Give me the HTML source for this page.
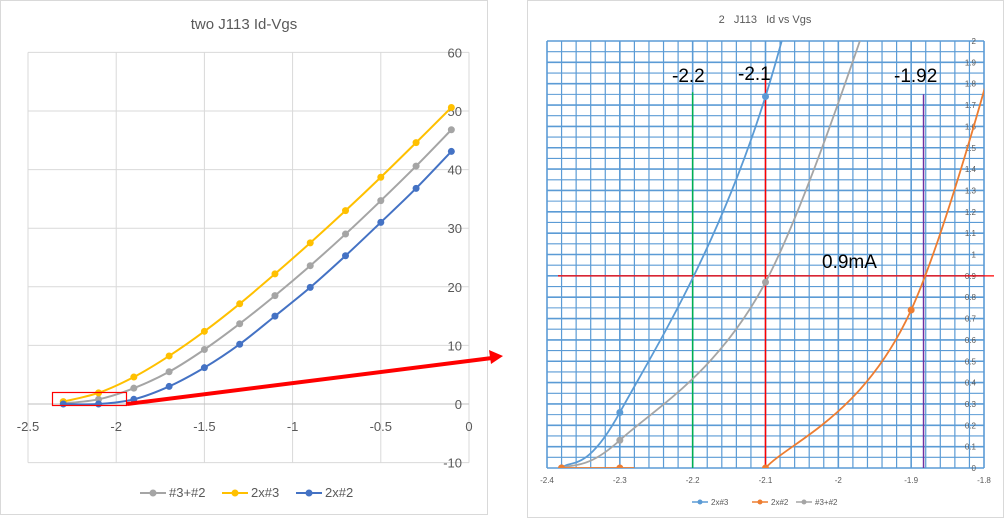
<!DOCTYPE html>
<html><head><meta charset="utf-8"><style>
body{margin:0;background:#fff;width:1004px;height:519px;overflow:hidden;font-family:"Liberation Sans",sans-serif}
svg{position:absolute;left:0;top:0}
</style></head><body>
<svg width="1004" height="519" id="svg">
<rect x="0.5" y="0.5" width="487" height="514" fill="#fff" stroke="#d9d9d9"/>
<rect x="527.5" y="0.5" width="476" height="517" fill="#fff" stroke="#d9d9d9"/>
<text x="244" y="29" font-size="15" fill="#595959" text-anchor="middle">two J113 Id-Vgs</text>
<text x="765" y="23" font-size="11" fill="#595959" text-anchor="middle" xml:space="preserve">2   J113   Id vs Vgs</text>
<g id="L"></g><g id="R"></g>
</svg>
<script>
// ---- left chart data ----
const lx=[-2.3,-2.1,-1.9,-1.7,-1.5,-1.3,-1.1,-0.9,-0.7,-0.5,-0.3,-0.1];
const lYellow=[0.4,1.9,4.6,8.2,12.4,17.1,22.2,27.5,33,38.7,44.6,50.6];
const lGrey=[0.1,0.8,2.7,5.5,9.3,13.7,18.5,23.6,29,34.7,40.6,46.8];
const lBlue=[0,0,0.8,3,6.2,10.2,15,19.9,25.3,31,36.8,43.1];
const lXTicks=[-2.5,-2,-1.5,-1,-0.5,0];
const lYTicks=[-10,0,10,20,30,40,50,60];
const lLegend=["#3+#2","2x#3","2x#2"];
// ---- right chart data ----
const r3x=[-2.38,-2.3,-2.1,-1.9];
const r3y=[0,0.26,1.74,4.6];
const rGx=[-2.38,-2.3,-2.1,-1.9];
const rGy=[0,0.13,0.87,2.7];
const rOx=[-2.1,-1.9,-1.7];
const rOy=[0,0.74,3.0];
const rOLowX=[-2.38,-2.3,-2.28];
const rOLowY=[0,0,0];
const rXTicks=[-2.4,-2.3,-2.2,-2.1,-2,-1.9,-1.8];
const rYTicks=[0,0.1,0.2,0.3,0.4,0.5,0.6,0.7,0.8,0.9,1,1.1,1.2,1.3,1.4,1.5,1.6,1.7,1.8,1.9,2];
const rLegend=["2x#3","2x#2","#3+#2"];

const NS="http://www.w3.org/2000/svg";
function mk(p,t,a){const e=document.createElementNS(NS,t);for(const k in a)e.setAttribute(k,a[k]);p.appendChild(e);return e;}
function smooth(pts){let d="M"+pts[0][0]+","+pts[0][1];for(let i=0;i<pts.length-1;i++){const p0=pts[Math.max(i-1,0)],p1=pts[i],p2=pts[i+1],p3=pts[Math.min(i+2,pts.length-1)];const c1=[p1[0]+(p2[0]-p0[0])/6,p1[1]+(p2[1]-p0[1])/6],c2=[p2[0]-(p3[0]-p1[0])/6,p2[1]-(p3[1]-p1[1])/6];d+=" C"+c1+" "+c2+" "+p2;}return d;}

// LEFT
const L=document.getElementById("L");
const lX=v=>28+(v+2.5)/2.5*441, lY=v=>404-v*5.86;
lXTicks.forEach(t=>{const l=mk(L,"line",{x1:lX(t),x2:lX(t),y1:lY(60),y2:lY(-10),stroke:"#d9d9d9"});


const tx=mk(L,"text",{x:lX(t),y:lY(0)+27,"font-size":13,fill:"#595959","text-anchor":"middle"});tx.textContent=t;

});
lYTicks.forEach(t=>{const l=mk(L,"line",{x1:lX(-2.5),x2:lX(0),y1:lY(t),y2:lY(t),stroke:t==0?"#bfbfbf":"#d9d9d9"});


const tx=mk(L,"text",{x:lX(0)-7,y:lY(t)+5,"font-size":13,fill:"#595959","text-anchor":"end"});tx.textContent=t;

});
[[lGrey,"#a5a5a5","series-3plus2"],[lYellow,"#ffc000","series-2x3"],[lBlue,"#4472c4","series-2x2"]].forEach(([ys,c,n])=>{
const pts=lx.map((x,i)=>[lX(x),lY(ys[i])]);
const p=mk(L,"path",{d:smooth(pts),fill:"none",stroke:c,"stroke-width":2});


pts.forEach(q=>{const m=mk(L,"circle",{cx:q[0],cy:q[1],r:3.5,fill:c});

});});
// legend
const lc=["#a5a5a5","#ffc000","#4472c4"],lxs=[140,222,296];
lLegend.forEach((s,i)=>{const g=mk(L,"g",{});


mk(g,"line",{x1:lxs[i],x2:lxs[i]+26,y1:493,y2:493,stroke:lc[i],"stroke-width":2});mk(g,"circle",{cx:lxs[i]+13,cy:493,r:3.5,fill:lc[i]});
const t=mk(g,"text",{x:lxs[i]+29,y:497,"font-size":13,fill:"#595959"});t.textContent=s;});
// red annotation
const rr=mk(L,"rect",{x:52.5,y:392.5,width:74,height:13,fill:"none",stroke:"#ff0000","stroke-width":1.2});


const ar=mk(L,"line",{x1:127,y1:404,x2:492,y2:358,stroke:"#ff0000","stroke-width":4});


const ah=mk(L,"polygon",{points:"503,356 489,350 491,364",fill:"#ff0000"});



// RIGHT
const R=document.getElementById("R");
const rX=v=>547+(v+2.4)/0.6*437, rY=v=>468-v*213.5;
mk(R,"clipPath",{id:"rc"}).appendChild(Object.assign(document.createElementNS(NS,"rect"),{}));
document.querySelector("#rc rect").setAttribute("x",547);document.querySelector("#rc rect").setAttribute("y",rY(2));
document.querySelector("#rc rect").setAttribute("width",437);document.querySelector("#rc rect").setAttribute("height",rY(0)-rY(2));
const grid=mk(R,"g",{stroke:"#5b9bd5"});


for(let i=0;i<=30;i++){const v=-2.4+i*0.02;mk(grid,"line",{x1:rX(v),x2:rX(v),y1:rY(2),y2:rY(0),"stroke-width":i%5==0?1.6:1.2});}
for(let i=0;i<=40;i++){const v=i*0.05;mk(grid,"line",{x1:rX(-2.4),x2:rX(-1.8),y1:rY(v),y2:rY(v),"stroke-width":i%2==0?1.6:1.1});}
rXTicks.forEach(t=>{const tx=mk(R,"text",{x:rX(t),y:483,"font-size":8,fill:"#595959","text-anchor":"middle"});tx.textContent=t;

});
rYTicks.forEach(t=>{const tx=mk(R,"text",{x:rX(-1.8)-8,y:rY(t)+3,"font-size":8,fill:"#595959","text-anchor":"end"});tx.textContent=+t.toFixed(1);

});
// reference lines
[[-2.2,1.76,"#00b050","vline-2.2"],[-2.1,1.86,"#ff0000","vline-2.1"],[-1.883,1.75,"#7030a0","vline-1.92"]].forEach(([x,top,c,n])=>{
const l=mk(R,"line",{x1:rX(x),x2:rX(x),y1:rY(0),y2:rY(top),stroke:c,"stroke-width":1.5});

});
const hl=mk(R,"line",{x1:558,x2:994,y1:rY(0.9),y2:rY(0.9),stroke:"#ff0000","stroke-width":1.3});


const cg=mk(R,"g",{"clip-path":"url(#rc)"});
[[r3x,r3y,"#5b9bd5","2x3"],[rGx,rGy,"#a5a5a5","3plus2"],[rOx,rOy,"#ed7d31","2x2"],[rOLowX,rOLowY,"#ed7d31","2x2-low"]].forEach(([xs,ys,c,n])=>{
const pts=xs.map((x,i)=>[rX(x),rY(ys[i])]);
const p=mk(cg,"path",{d:smooth(pts),fill:"none",stroke:c,"stroke-width":1.8});


pts.forEach((q,i)=>{if(n=="2x2-low"&&i==2)return;const m=mk(cg,"circle",{cx:q[0],cy:q[1],r:3.5,fill:c});

});});
[["-2.2",672,82],["-2.1",738,80],["-1.92",894,82],["0.9mA",822,268]].forEach(([s,x,y])=>{const t=mk(R,"text",{x:x,y:y,"font-size":19,fill:"#000"});t.textContent=s;

});
const rc=["#5b9bd5","#ed7d31","#a5a5a5"],rxs=[692,752,796];
rLegend.forEach((s,i)=>{const g=mk(R,"g",{});


mk(g,"line",{x1:rxs[i],x2:rxs[i]+16,y1:502,y2:502,stroke:rc[i],"stroke-width":1.5});mk(g,"circle",{cx:rxs[i]+8,cy:502,r:2.5,fill:rc[i]});
const t=mk(g,"text",{x:rxs[i]+19,y:505,"font-size":8,fill:"#595959"});t.textContent=s;});
</script>
</body></html>
